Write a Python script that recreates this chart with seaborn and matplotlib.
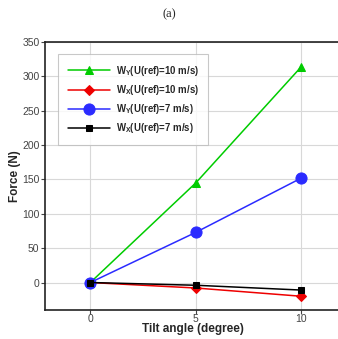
import matplotlib
matplotlib.use("Agg")
import matplotlib.pyplot as plt
import seaborn as sns

sns.set_theme(style="white")
plt.rcParams['font.family'] = ['Liberation Sans', 'DejaVu Sans']
plt.rcParams['mathtext.fontset'] = 'custom'
plt.rcParams['mathtext.rm'] = 'Liberation Sans:bold'
plt.rcParams['mathtext.it'] = 'Liberation Sans:bold'
plt.rcParams['mathtext.bf'] = 'Liberation Sans:bold'

tilt = [0, 5, 10]
wy_10 = [0, 145, 314]
wx_10 = [0, -8, -20]
wy_7 = [0, 73, 152]
wx_7 = [0, -4, -11]

series = [
    (r'W$_Y$(U(ref)=10 m/s)', wy_10, '#00cc00', '^', 6),
    (r'W$_X$(U(ref)=10 m/s)', wx_10, '#ee0000', 'D', 5),
    (r'W$_Y$(U(ref)=7 m/s)', wy_7, '#2b2bff', 'o', 8),
    (r'W$_X$(U(ref)=7 m/s)', wx_7, '#000000', 's', 5),
]

fig = plt.figure(figsize=(3.38, 3.39), dpi=100)
ax = fig.add_axes([45 / 338, 29 / 339, 1 - 45 / 338 + 0.01, 268 / 339])

for label, vals, color, marker, ms in series:
    sns.lineplot(x=tilt, y=vals, ax=ax, color=color, marker=marker,
                 markersize=ms, markeredgecolor=color, linewidth=1.1,
                 label=label)

ax.set_xlim(-2.15, 11.9)
ax.set_ylim(-40, 350)
ax.set_xticks([0, 5, 10])
ax.set_yticks(range(0, 351, 50))
ax.grid(True, color='#d8d8d8', linewidth=0.8)
ax.set_axisbelow(True)
for s in ['left', 'bottom', 'top']:
    ax.spines[s].set_color('#222222')
    ax.spines[s].set_linewidth(1.2)
ax.spines['right'].set_visible(False)
ax.tick_params(direction='out', length=3, width=0.8, colors='#444444',
               labelsize=7.5, left=True, bottom=True, pad=1)
ax.tick_params(axis='x', pad=0)

ax.set_xlabel('Tilt angle (degree)', fontsize=8.5, fontweight='bold', labelpad=-1)
ax.set_ylabel('Force (N)', fontsize=8.5, fontweight='bold', labelpad=1)

leg = ax.legend(loc='upper left', bbox_to_anchor=(0.045, 0.955),
                prop={'weight': 'bold', 'size': 6.9}, handlelength=4.4,
                frameon=True, fancybox=False, borderpad=1.0, labelspacing=0.55,
                handletextpad=0.6, borderaxespad=0)
leg.get_frame().set_edgecolor('#bbbbbb')
leg.get_frame().set_linewidth(0.8)

fig.text(0.5, 1 - 14 / 339, '(a)', ha='center', va='center',
         fontsize=9, family='Liberation Serif')

fig.savefig('out.png', dpi=100)
